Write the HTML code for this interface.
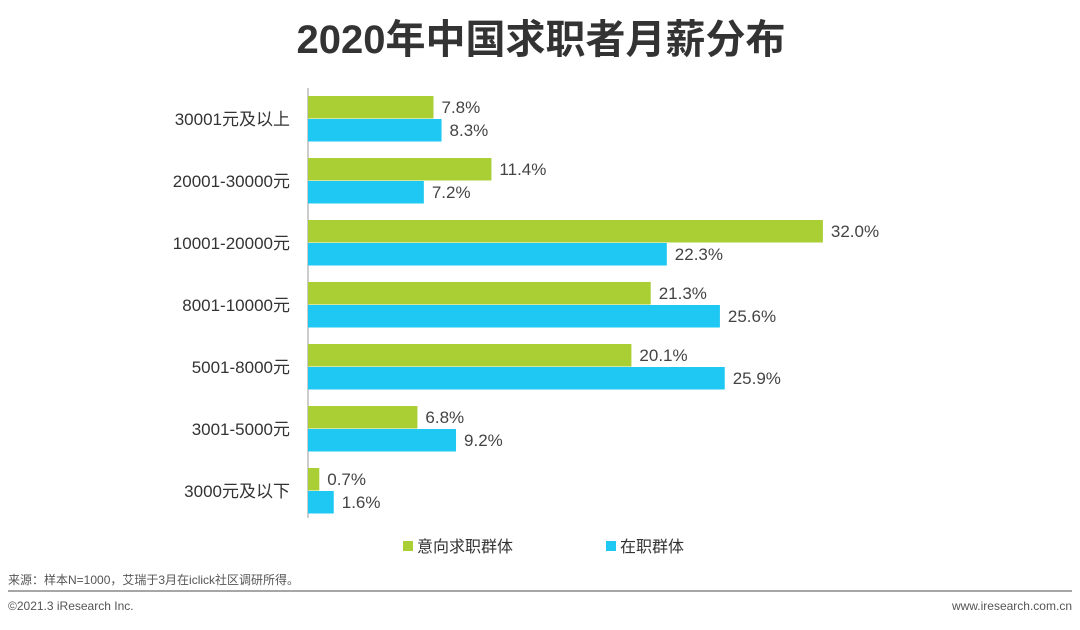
<!DOCTYPE html>
<html><head><meta charset="utf-8"><style>
body{margin:0;width:1080px;height:625px;background:#fff;overflow:hidden;font-family:"Liberation Sans","Noto Sans CJK SC",sans-serif;}
svg text{font-family:"Liberation Sans","Noto Sans CJK SC",sans-serif;}
</style></head><body>
<svg id="chart" width="1080" height="625">
<text x="541" y="53" text-anchor="middle" font-size="40" font-weight="bold" fill="#333">2020年中国求职者月薪分布</text>
<line x1="308" y1="88" x2="308" y2="518" stroke="#999" stroke-width="1"/>
<g id="bars"></g>
<rect x="403" y="541" width="10" height="10" fill="#a9cf34"/>
<text x="417" y="552" font-size="16" fill="#333">意向求职群体</text>
<rect x="606" y="541" width="10" height="10" fill="#1ec8f2"/>
<text x="620" y="552" font-size="16" fill="#333">在职群体</text>
<text x="8" y="584" font-size="12" fill="#555">来源：样本N=1000，艾瑞于3月在iclick社区调研所得。</text>
<line x1="8" y1="591" x2="1072" y2="591" stroke="#888" stroke-width="1.5"/>
<text x="8" y="610" font-size="12" fill="#555">©2021.3 iResearch Inc.</text>
<text x="1072" y="610" font-size="12" fill="#555" text-anchor="end">www.iresearch.com.cn</text>
</svg>
<script>
const categories=["30001元及以上","20001-30000元","10001-20000元","8001-10000元","5001-8000元","3001-5000元","3000元及以下"];
const seeking=[7.8,11.4,32.0,21.3,20.1,6.8,0.7];
const employed=[8.3,7.2,22.3,25.6,25.9,9.2,1.6];
const x0=308, pxPer=16.09, top0=118, step=62, bh=23;
const xs=v=>x0+v*pxPer;
const g=document.getElementById('bars');
const NS='http://www.w3.org/2000/svg';
function mk(t,a){const e=document.createElementNS(NS,t);for(const k in a)e.setAttribute(k,a[k]);return e;}
categories.forEach((c,i)=>{
  const cy=top0+i*step;
  const lab=mk('text',{x:290,y:cy+7,'text-anchor':'end','font-size':17,fill:'#333'});
  lab.textContent=c;
  
  
  g.appendChild(lab);
  [[seeking,'#a9cf34',cy-bh+1,'seeking'],[employed,'#1ec8f2',cy+1,'employed']].forEach(([arr,col,y,nm])=>{
    const v=arr[i];
    const r=mk('rect',{x:x0,y:y,width:xs(v)-x0,height:bh-0.5,fill:col});
    
    
    g.appendChild(r);
    const t=mk('text',{x:xs(v)+8,y:y+17,'font-size':17,fill:'#444'});
    t.textContent=v.toFixed(1)+'%';
    
    
    g.appendChild(t);
  });
});
</script>
</body></html>
